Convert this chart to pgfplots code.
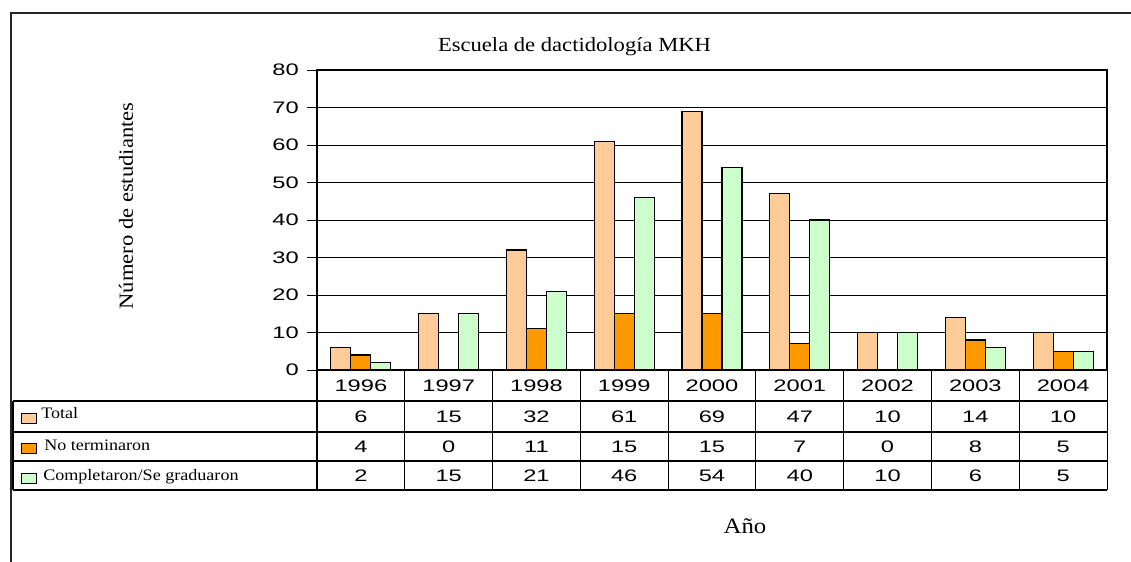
\documentclass[border=0pt]{standalone}
\usepackage{fontspec}
\setmainfont{Liberation Serif}[FakeStretch=1.13]
\newfontfamily\arialw{Liberation Sans}[FakeStretch=1.42]
\usepackage{pgfplots}
\usepackage{pgfplotstable}
\pgfplotsset{compat=1.18}
\definecolor{totc}{HTML}{FFCC99}
\definecolor{noc}{HTML}{FF9900}
\definecolor{compc}{HTML}{CCFFCC}
\pgfplotstableread{
x year total no comp
0 1996 6 4 2
1 1997 15 0 15
2 1998 32 11 21
3 1999 61 15 46
4 2000 69 15 54
5 2001 47 7 40
6 2002 10 0 10
7 2003 14 8 6
8 2004 10 5 5
}\data
\newcommand\tabf{\arialw\fontsize{12.5pt}{14pt}\selectfont}
\newcommand\titf{\fontsize{15pt}{17pt}\selectfont}
\newcommand\legf{\fontsize{12pt}{14pt}\selectfont}
\begin{document}
\begin{tikzpicture}
\begin{axis}[
 at={(237.75pt,-277.5pt)}, anchor=south west,
 scale only axis, width=592.5pt, height=225pt,
 xmin=-0.5, xmax=8.5, ymin=0, ymax=80,
 xtick=\empty, ytick={0,10,...,80},
 ymajorgrids, major grid style={black, line width=0.6pt},
 axis line style={black, line width=1.1pt},
 ytick style={black, line width=0.75pt}, tick align=outside, major tick length=7.5pt,
 ytick pos=left,
 yticklabel style={font=\tabf, inner sep=0pt, xshift=-6pt},
 /pgf/number format/assume math mode=true,
 clip=false,
]
\addplot[ybar, bar width=15pt, bar shift=-15pt, fill=totc, draw=black, line width=0.9pt] table[x=x, y=total]{\data};
\addplot[ybar, bar width=15pt, bar shift=0pt, fill=noc, draw=black, line width=0.9pt] table[x=x, y=no]{\data};
\addplot[ybar, bar width=15pt, bar shift=15pt, fill=compc, draw=black, line width=0.9pt] table[x=x, y=comp]{\data};
\addplot[draw=none, mark=none, nodes near coords, point meta=explicit symbolic, nodes near coords style={anchor=center, font=\tabf, inner sep=0pt}] table[x=x, y expr=-4.13, meta=year]{\data};
\addplot[draw=none, mark=none, nodes near coords, point meta=explicit symbolic, nodes near coords style={anchor=center, font=\tabf, inner sep=0pt}] table[x=x, y expr=-12.4, meta=total]{\data};
\addplot[draw=none, mark=none, nodes near coords, point meta=explicit symbolic, nodes near coords style={anchor=center, font=\tabf, inner sep=0pt}] table[x=x, y expr=-20.4, meta=no]{\data};
\addplot[draw=none, mark=none, nodes near coords, point meta=explicit symbolic, nodes near coords style={anchor=center, font=\tabf, inner sep=0pt}] table[x=x, y expr=-28.13, meta=comp]{\data};
\end{axis}
\begin{scope}[x=0.75pt, y=-0.75pt]
 \draw[line width=1.3pt, black!85] (11,600) -- (11,13) -- (1140,13);
 \foreach \yy in {401,432,461,490} \draw[line width=0.8pt] (13,\yy) -- (1107,\yy);
 \draw[line width=0.8pt] (13,401) -- (13,490);
 \foreach \i in {0,...,9} \draw[line width=0.8pt] ({317+\i*87.78},370) -- ({317+\i*87.78},490);
 \filldraw[fill=totc, draw=black, line width=0.6pt] (21,413) rectangle (36,423);
 \filldraw[fill=noc, draw=black, line width=0.6pt] (21,443) rectangle (36,453);
 \filldraw[fill=compc, draw=black, line width=0.6pt] (21,473) rectangle (36,483);
 \node[anchor=base west, font=\legf, inner sep=0pt] at (41,418) {Total};
 \node[anchor=base west, font=\legf, inner sep=0pt] at (44,450) {No terminaron};
 \node[anchor=base west, font=\legf, inner sep=0pt] at (43,480) {Completaron/Se graduaron};
 \node[font=\titf, anchor=base, inner sep=0pt] at (574.5,51) {Escuela de dactidología MKH};
 \node[font=\titf, rotate=90, inner sep=0pt] at (126,206) {Número de estudiantes};
 \node[font=\fontsize{16.5pt}{19pt}\selectfont, anchor=base, inner sep=0pt] at (745,533) {Año};
\end{scope}
\pgfresetboundingbox
\path[use as bounding box] (0,0) rectangle (848.25pt,-420.75pt);
\end{tikzpicture}
\end{document}
